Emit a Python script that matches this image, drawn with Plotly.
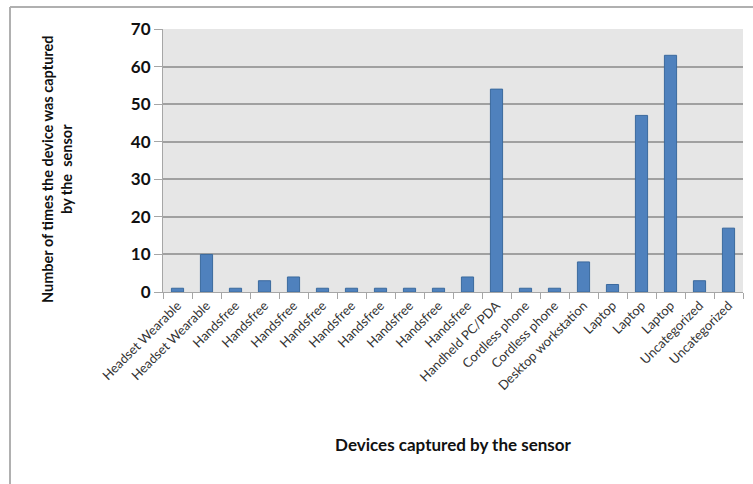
import plotly.graph_objects as go

# Device categories as they were logged (names repeat across entries)
devices = [
    "Headset Wearable", "Headset Wearable",
    "Handsfree", "Handsfree", "Handsfree", "Handsfree", "Handsfree",
    "Handsfree", "Handsfree", "Handsfree", "Handsfree",
    "Handheld PC/PDA", "Cordless phone", "Cordless phone",
    "Desktop workstation", "Laptop", "Laptop", "Laptop",
    "Uncategorized", "Uncategorized",
]
captures = [1, 10, 1, 3, 4, 1, 1, 1, 1, 1, 4, 54, 1, 1, 8, 2, 47, 63, 3, 17]
y_ticks = [0, 10, 20, 30, 40, 50, 60, 70]

W, H = 753, 484
ML, MR, MT, MB = 163, 10, 29, 192
pw = W - ML - MR
ph = H - MT - MB

positions = list(range(len(devices)))

fig = go.Figure(
    go.Bar(
        x=positions,
        y=captures,
        width=0.42,
        marker=dict(color="#4F81BD", line=dict(color="#3B6A9E", width=1)),
    )
)

fig.update_layout(
    width=W,
    height=H,
    margin=dict(l=ML, r=MR, t=MT, b=MB),
    paper_bgcolor="white",
    plot_bgcolor="#E6E6E6",
    showlegend=False,
    font=dict(family="Lato, 'Open Sans', sans-serif", color="#222"),
)

fig.update_xaxes(
    range=[-0.5, len(devices) - 0.5],
    tickmode="array",
    tickvals=positions,
    ticktext=devices,
    tickangle=-45,
    ticks="",
    tickfont=dict(size=13, color="#333"),
    showgrid=False,
    showline=True,
    linecolor="#A6A6A6",
    linewidth=1,
    zeroline=False,
    minor=dict(tick0=0.5, dtick=1, ticks="outside", ticklen=6,
               tickcolor="#A6A6A6", showgrid=False),
    title=dict(text="<b>Devices captured by the sensor</b>",
               font=dict(size=17, color="#111"), standoff=46),
)

fig.update_yaxes(
    range=[0, 70],
    tickmode="array",
    tickvals=y_ticks,
    ticktext=[f"<b>{v}</b>" for v in y_ticks],
    tickfont=dict(size=17, color="#111", family="Lato, sans-serif"),
    ticks="outside",
    ticklen=8,
    tickcolor="#A6A6A6",
    showgrid=True,
    gridcolor="#A0A0A0",
    gridwidth=1.5,
    showline=True,
    linecolor="#A6A6A6",
    zeroline=False,
)

# Vertical axis title, two lines
fig.add_annotation(
    xref="paper", yref="paper",
    x=(57 - ML) / pw, y=1 - (170 - MT) / ph,
    xanchor="center", yanchor="middle",
    text="<b>Number of times the device was captured<br>by the  sensor</b>",
    textangle=-90, showarrow=False,
    font=dict(size=14.5, color="#111"),
)

# Outer frame (top and left edges)
x_left = (10 - ML) / pw
y_top = 1 + (MT - 7) / ph
fig.add_shape(type="line", xref="paper", yref="paper",
              x0=x_left, x1=1 + MR / pw + 0.01, y0=y_top, y1=y_top,
              line=dict(color="#B0B0B0", width=2))
fig.add_shape(type="line", xref="paper", yref="paper",
              x0=x_left, x1=x_left, y0=y_top, y1=-MB / ph - 0.01,
              line=dict(color="#B0B0B0", width=2))

fig.write_html("out.html")
